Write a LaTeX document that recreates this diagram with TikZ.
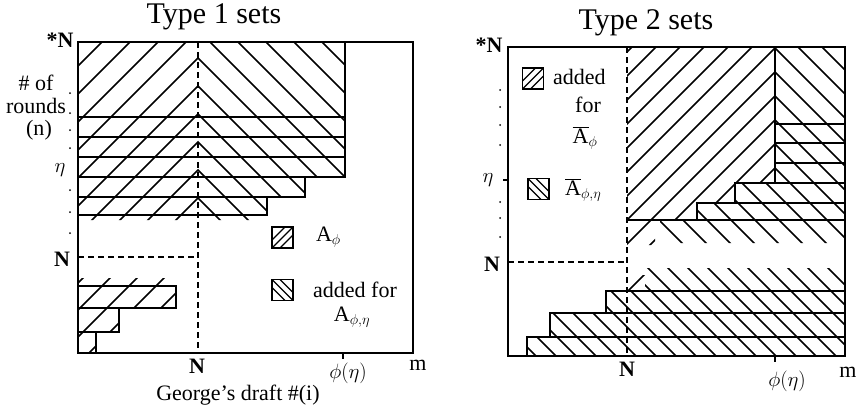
\documentclass[tikz,border=0pt]{standalone}
\usepackage{fontspec}
\setmainfont{Liberation Serif}
\usetikzlibrary{positioning}
% hatching: lines x+y=c (fw) or x-y=c (bw), clipped to #1
\newcommand{\hatchfw}[4]{\begin{scope}\clip #1;
  \foreach \hc in {#2,#3,...,#4} \draw[hatch] (\hc-450,450) -- (\hc+450,-450);
  \end{scope}}
\newcommand{\hatchbw}[4]{\begin{scope}\clip #1;
  \foreach \hc in {#2,#3,...,#4} \draw[hatch] (\hc-450,-450) -- (\hc+450,450);
  \end{scope}}

\begin{document}
\begin{tikzpicture}[x=1pt,y=-1pt,
  frame/.style={line width=1.8pt},
  hatch/.style={line width=1.5pt},
  nline/.style={line width=1.5pt,dash pattern=on 6pt off 4pt},
  lbl/.style={font=\fontsize{22}{24}\selectfont,inner sep=0pt},
  ttl/.style={font=\fontsize{30}{32}\selectfont,inner sep=0pt},
  keyfw/.style={draw,line width=1.6pt,minimum width=21pt,minimum height=21pt,inner sep=0pt,
    path picture={\foreach \d in {-8,0,8}\draw[line width=1.2pt] ([xshift=\d pt]path picture bounding box.center) ++(-20,20) -- ++(40,-40);}},
  keybw/.style={draw,line width=1.6pt,minimum width=21pt,minimum height=21pt,inner sep=0pt,
    path picture={\foreach \d in {-8,0,8}\draw[line width=1.2pt] ([xshift=\d pt]path picture bounding box.center) ++(-20,-20) -- ++(40,40);}}]
\useasboundingbox (0,0) rectangle (858,410);

% Type 1 sets
\node[ttl] (t1) at (214,17) {Type 1 sets};
\hatchfw{(78,42) rectangle (198,215) (78,215) rectangle (198,220)}{116}{144}{424}
\hatchfw{(78,286) -- (176,286) -- (176,308) -- (119,308) -- (119,332) -- (96,332) -- (96,353) -- (78,353) -- cycle (78,278) rectangle (180,286)}{334}{361}{550}
\hatchbw{(198,42) -- (345,42) -- (345,177) -- (305,177) -- (305,197) -- (267,197) -- (267,215) -- (198,215) -- cycle (198,215) rectangle (267,220)}{-28}{0}{308}
\draw[frame] (78,42) rectangle (413,353);
\draw[frame] (345,42) -- (345,177) -- (305,177) -- (305,197) -- (267,197) -- (267,215) -- (78,215);
\foreach \yy in {117,137,157} \draw[frame] (78,\yy) -- (345,\yy);
\draw[frame] (78,177) -- (305,177) (78,197) -- (267,197);
\draw[frame] (78,286) -- (176,286) -- (176,308) -- (78,308) (119,308) -- (119,332) -- (78,332) (96,332) -- (96,353);
\draw[nline] (198,42) -- (198,353) (78,257) -- (198,257);
\draw[frame] (343,353) -- (343,359);
\foreach \yy in {93,113,130,148,190,212,233} \fill (70,\yy) circle (1pt);
\node[lbl] (ls) at (60,40) {\textbf{*N}};
\node[lbl] (lr1) at (36,83) {\# of};
\node[lbl] (lr2) at (36,106) {rounds};
\node[lbl] (lr3) at (39,130) {(n)};
\node[lbl] (leta) at (60,170) {$\eta$};
\node[lbl] (lN) at (62,259) {\textbf{N}};
\node[lbl] (bN1) at (197,366) {\textbf{N}};
\node[lbl] (bphi1) at (348,373) {$\phi(\eta)$};
\node[lbl] (bm1) at (418,365) {m};
\node[lbl] (xl) at (238,395) {George's draft \#(i)};
\node[keyfw] (k1a) at (282.5,237.5) {};
\node[lbl,right=22pt of k1a] (k1at) {A$_{\phi}$};
\node[keybw] (k1b) at (282.5,290) {};
\node[lbl,anchor=west] (k1bt) at (313,290) {added for};
\node[lbl] (k1bt2) at (352,317) {A$_{\phi,\eta}$};

% Type 2 sets
\node[ttl] (t2) at (646,23) {Type 2 sets};
\hatchfw{(627,47) -- (775,47) -- (775,183) -- (735,183) -- (735,203) -- (697,203) -- (697,220) -- (627,220) -- cycle (627,220) rectangle (655,245) (627,275) rectangle (645,291)}{679}{703}{943}
\hatchbw{(775,47) -- (845,47) -- (845,220) -- (697,220) -- (697,203) -- (735,203) -- (735,183) -- (775,183) -- cycle (660,220) rectangle (845,243)}{439}{463}{823}
\hatchbw{(606,291) -- (845,291) -- (845,356) -- (527,356) -- (527,337) -- (550,337) -- (550,313) -- (606,313) -- cycle (645,268) rectangle (845,291)}{160}{180}{580}
\draw[frame] (508,47) rectangle (845,356);
\draw[frame] (775,47) -- (775,183) -- (735,183) -- (735,203) -- (697,203) -- (697,220) (627,220) -- (845,220);
\foreach \yy in {124,143,163} \draw[frame] (775,\yy) -- (845,\yy);
\draw[frame] (735,183) -- (845,183) (697,203) -- (845,203);
\draw[frame] (606,313) -- (606,291) -- (845,291) (550,337) -- (550,313) -- (845,313) (527,356) -- (527,337) -- (845,337);
\draw[nline] (627,47) -- (627,356) (508,262) -- (627,262);
\draw[frame] (775,356) -- (775,362) (503,180) -- (508,180);
\foreach \yy in {90,107,125,145,202,218,237} \fill (500,\yy) circle (1pt);
\node[lbl] (rs) at (489,45) {\textbf{*N}};
\node[lbl] (reta) at (488,180) {$\eta$};
\node[lbl] (rN) at (492,264) {\textbf{N}};
\node[lbl] (bN2) at (627,369) {\textbf{N}};
\node[lbl] (bphi2) at (787,381) {$\phi(\eta)$};
\node[lbl] (bm2) at (848,372) {m};
\node[keyfw] (k2a) at (533,78.5) {};
\node[lbl,anchor=west] (k2at) at (553,77) {added};
\node[lbl] (k2at2) at (588,105) {for};
\node[lbl] (k2at3) at (585,138) {$\overline{\mbox{A}}_{\phi}$};
\node[keybw] (k2b) at (538.5,189) {};
\node[lbl,anchor=west] (k2bt) at (565,190) {$\overline{\mbox{A}}_{\phi,\eta}$};
\end{tikzpicture}
\end{document}
